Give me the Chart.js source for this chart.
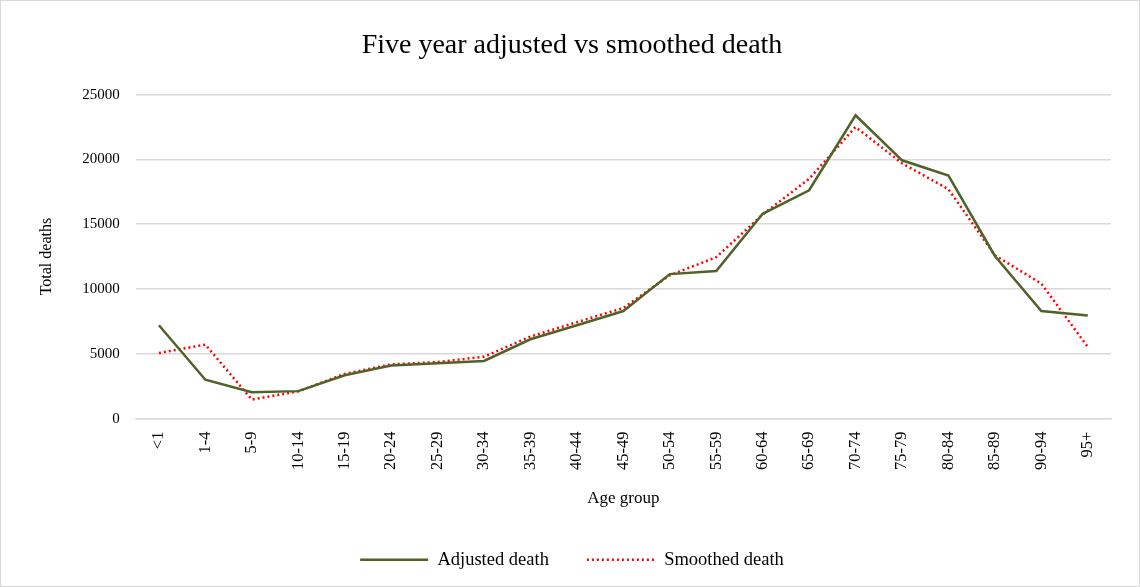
<!DOCTYPE html>
<html lang="en">
<head>
    <meta charset="UTF-8">
    <title>Five year adjusted vs smoothed death</title>
    <script src="https://cdn.jsdelivr.net/npm/chart.js"></script>
    <style>
        body {
            margin: 0;
            background-color: #fff;
        }
        #chartContainer {
            width: 1138px;
            height: 585px;
            border: 1px solid #d9d9d9;
        }
    </style>
</head>
<body>
    <div id="chartContainer">
        <canvas id="myChart"></canvas>
    </div>

    <script>
        // Age groups along the x axis
        var ageGroups = ['<1', '1-4', '5-9', '10-14', '15-19', '20-24', '25-29', '30-34', '35-39', '40-44',
            '45-49', '50-54', '55-59', '60-64', '65-69', '70-74', '75-79', '80-84', '85-89', '90-94', '95+'];

        // Values
        var adjustedDeath = [7200, 3000, 2030, 2120, 3340, 4100, 4280, 4450, 6120, 7200,
            8300, 11150, 11380, 15800, 17620, 23400, 19930, 18750, 12550, 8300, 7950];
        var smoothedDeath = [5060, 5710, 1470, 2100, 3450, 4180, 4360, 4780, 6330, 7440,
            8540, 11060, 12450, 15750, 18500, 22500, 19700, 17700, 12600, 10420, 5530];

        var yTicks = [0, 5000, 10000, 15000, 20000, 25000];

        var serif = "'Liberation Serif', serif";
        var dots = [2, 3];
        var ctx = document.getElementById('myChart').getContext('2d');

        var myChart = new Chart(ctx, {
            type: 'line',
            data: {
                labels: ageGroups,
                datasets: [{
                    label: 'Adjusted death',
                    data: adjustedDeath,
                    borderColor: '#4f6228',
                    backgroundColor: '#4f6228',
                    borderWidth: 2.5,
                    pointRadius: 0,
                    tension: 0
                }, {
                    label: 'Smoothed death',
                    data: smoothedDeath,
                    borderColor: '#ff0000',
                    backgroundColor: '#ff0000',
                    borderWidth: 2.5,
                    borderDash: dots,
                    pointRadius: 0,
                    tension: 0
                }]
            },
            options: {
                responsive: true,
                maintainAspectRatio: false,
                animation: false,
                layout: {
                    padding: { left: 32, right: 28, top: 28, bottom: 7 }
                },
                plugins: {
                    title: {
                        display: true,
                        text: 'Five year adjusted vs smoothed death',
                        color: '#000',
                        font: { family: serif, size: 28, weight: 'normal' },
                        padding: { top: 0, bottom: 32 }
                    },
                    legend: {
                        position: 'bottom',
                        labels: {
                            usePointStyle: true,
                            pointStyle: 'line',
                            pointStyleWidth: 68,
                            color: '#000',
                            font: { family: serif, size: 18.5 },
                            padding: 38,
                            generateLabels: function (chart) {
                                var items = Chart.defaults.plugins.legend.labels.generateLabels(chart);
                                items.forEach(function (it, i) {
                                    it.pointStyle = 'line';
                                    it.lineWidth = 2.5;
                                    it.lineDash = chart.data.datasets[i].borderDash || [];
                                });
                                return items;
                            }
                        }
                    },
                    tooltip: { enabled: false }
                },
                scales: {
                    x: {
                        offset: true,
                        grid: { display: false, drawTicks: false },
                        border: { color: '#d9d9d9', width: 1.5 },
                        ticks: {
                            color: '#000',
                            font: { family: serif, size: 16.5 },
                            maxRotation: 90,
                            minRotation: 90,
                            autoSkip: false,
                            padding: 13
                        },
                        title: {
                            display: true,
                            text: 'Age group',
                            color: '#000',
                            font: { family: serif, size: 17 },
                            padding: { top: 5, bottom: 4 }
                        }
                    },
                    y: {
                        min: 0,
                        max: 25000,
                        afterBuildTicks: function (axis) {
                            axis.ticks = yTicks.map(function (v) { return { value: v }; });
                        },
                        grid: { color: '#d9d9d9', lineWidth: 1.5, drawTicks: false },
                        border: { display: false },
                        ticks: {
                            color: '#000',
                            font: { family: serif, size: 15 },
                            padding: 16,
                            callback: function (v) { return v; }
                        },
                        title: {
                            display: true,
                            text: 'Total deaths',
                            color: '#000',
                            font: { family: serif, size: 16 },
                            padding: { bottom: 10 }
                        }
                    }
                }
            }
        });
    </script>
</body>
</html>
